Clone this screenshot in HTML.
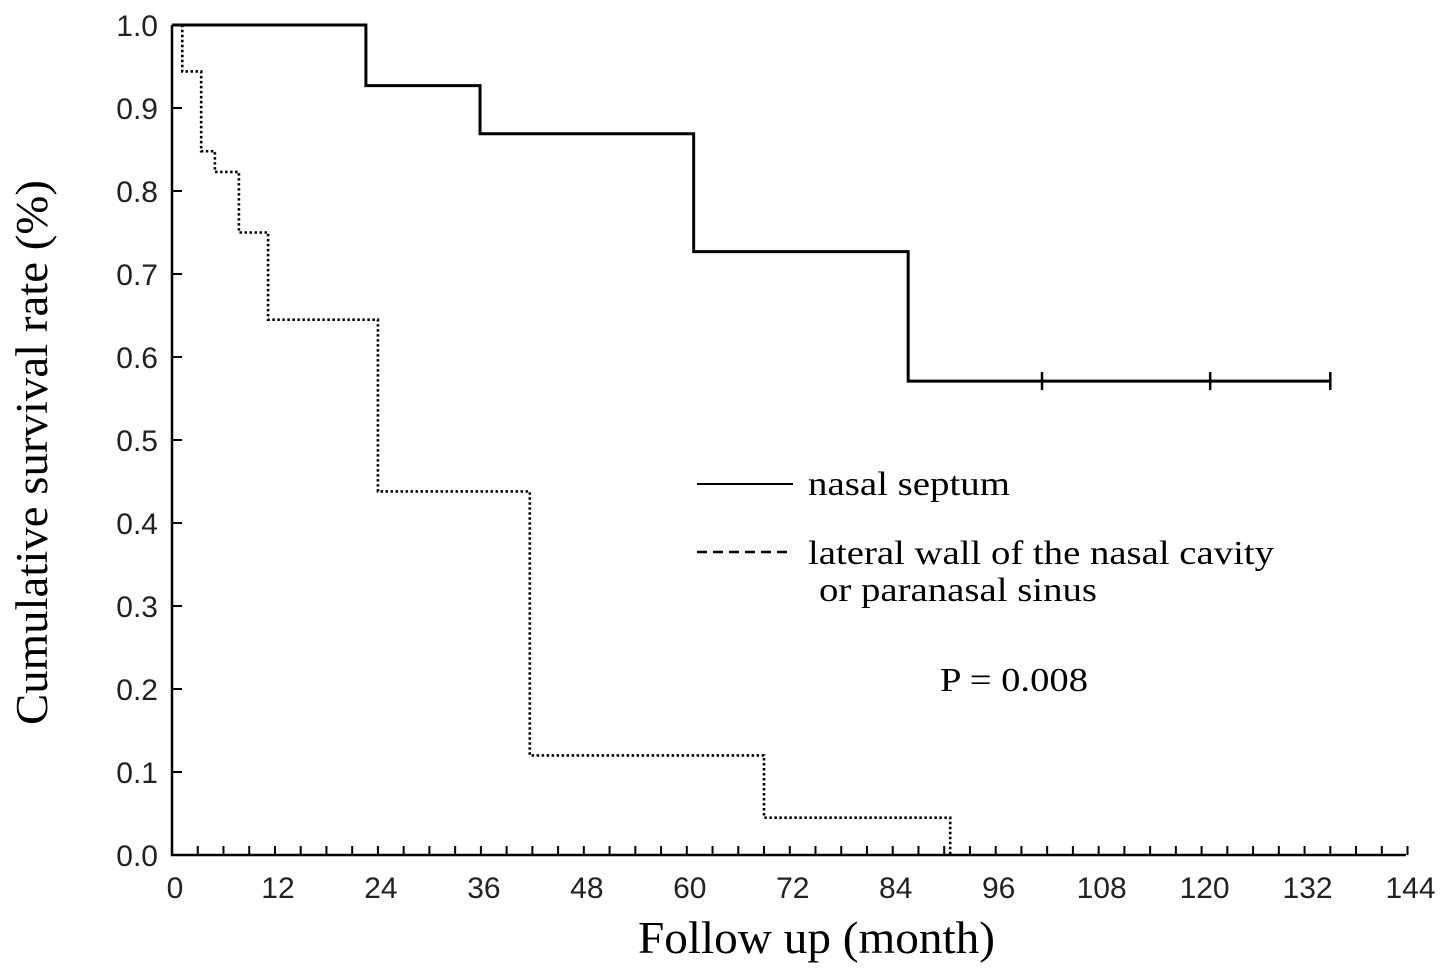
<!DOCTYPE html>
<html><head><meta charset="utf-8"><style>
html,body{margin:0;padding:0;background:#fff;}
svg{display:block;}
.tick{font-family:"Liberation Sans",sans-serif;font-size:30px;fill:#222;}
.serif{font-family:"Liberation Serif",serif;fill:#000;}
</style></head><body>
<svg id="chart" width="1441" height="974" viewBox="0 0 1441 974" xmlns="http://www.w3.org/2000/svg">
<g id="axes"></g>
<g id="series"></g>
<text class="serif" x="638" y="953" font-size="45" textLength="357" lengthAdjust="spacingAndGlyphs">Follow up (month)</text>
<text class="serif" transform="translate(47,725) rotate(-90)" font-size="45" textLength="545" lengthAdjust="spacingAndGlyphs">Cumulative survival rate (%)</text>
<g>
<line x1="697" y1="484" x2="793" y2="484" stroke="#000" stroke-width="2"/>
<text class="serif" x="808" y="495" font-size="34" textLength="202" lengthAdjust="spacingAndGlyphs">nasal septum</text>
<line x1="697" y1="552" x2="793" y2="552" stroke="#000" stroke-width="2.5" stroke-dasharray="10 6"/>
<text class="serif" x="808" y="564" font-size="34" textLength="466" lengthAdjust="spacingAndGlyphs">lateral wall of the nasal cavity</text>
<text class="serif" x="819" y="601" font-size="34" textLength="278" lengthAdjust="spacingAndGlyphs">or paranasal sinus</text>
</g>
<text class="serif" x="940" y="691" font-size="34" textLength="148" lengthAdjust="spacingAndGlyphs">P = 0.008</text>
</svg>
<script>
const xTickLabels = [0,12,24,36,48,60,72,84,96,108,120,132,144];
const yTickLabels = ["0.0","0.1","0.2","0.3","0.4","0.5","0.6","0.7","0.8","0.9","1.0"];
const septumTimes = [0,22.6,35.9,60.8,85.8,135];
const septumSurv = [1.0,0.927,0.869,0.727,0.571,0.571];
const septumCensor = [101.4,121,135];
const lateralTimes = [0,1.2,3.4,5,7.8,11.2,24,41.7,69,90.7];
const lateralSurv = [1.0,0.944,0.848,0.823,0.75,0.645,0.438,0.12,0.045,0.0];

const NS="http://www.w3.org/2000/svg";
const X0=172, PXM=8.58, Y0=855, PXY=830;
const xs=m=>X0+m*PXM, ys=v=>Y0-v*PXY;
function mk(tag,attrs,parent){const e=document.createElementNS(NS,tag);for(const k in attrs)e.setAttribute(k,attrs[k]);parent.appendChild(e);return e;}
const axes=document.getElementById('axes'), series=document.getElementById('series');

let a=mk('path',{d:`M${X0},${ys(1)} V${Y0} H1406`,fill:'none',stroke:'#000','stroke-width':2.5},axes);


for(let m=3;m<=144;m+=3){
  const t=mk('line',{x1:xs(m),x2:xs(m),y1:Y0,y2:Y0-9,stroke:'#000','stroke-width':2},axes);
  
  
}
xTickLabels.forEach(v=>{
  const t=mk('text',{x:xs(v)+3,y:898,'text-anchor':'middle',class:'tick'},axes);t.textContent=v;
  
  
});
yTickLabels.forEach(s=>{
  const v=parseFloat(s);
  if(v>0){const t=mk('line',{x1:X0,x2:X0+10,y1:ys(v),y2:ys(v),stroke:'#000','stroke-width':2},axes);
    
    }
  const l=mk('text',{x:158,y:ys(v)+11,'text-anchor':'end',class:'tick'},axes);l.textContent=s;
  
  
});
function stepPath(T,S,end){
  let d=`M${xs(T[0])},${ys(S[0])}`;
  for(let i=1;i<T.length;i++){d+=` H${xs(T[i])} V${ys(S[i])}`;}
  if(end!==undefined)d+=` H${xs(end)}`;
  return d;
}
const sp=mk('path',{d:stepPath(septumTimes,septumSurv),fill:'none',stroke:'#000','stroke-width':3},series);


const lastS=septumSurv[septumSurv.length-1];
septumCensor.forEach(c=>{
  const t=mk('line',{x1:xs(c),x2:xs(c),y1:ys(lastS)-9,y2:ys(lastS)+9,stroke:'#000','stroke-width':2.5},series);
  
  
});
const lp=mk('path',{d:stepPath(lateralTimes,lateralSurv),fill:'none',stroke:'#000','stroke-width':2.6,'stroke-dasharray':'2.5 2.5'},series);


</script>
</body></html>
